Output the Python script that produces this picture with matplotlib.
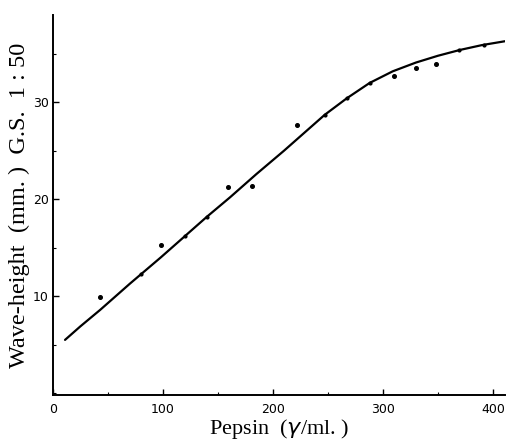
import numpy as np
import matplotlib.pyplot as plt
from matplotlib.ticker import MultipleLocator

# smooth curve
curva_x = [11, 25, 43, 70, 98, 120, 140, 161, 185, 210, 230, 247, 267, 288, 309, 330, 350, 370, 390, 411]
curva_y = [5.5, 6.9, 8.6, 11.3, 14.0, 16.2, 18.2, 20.2, 22.6, 25.0, 27.0, 28.7, 30.4, 32.0, 33.2, 34.1, 34.8, 35.4, 35.9, 36.3]

# measured points (off the curve)
puntos_x = [43, 98, 159, 181, 222, 310, 330, 348]
puntos_y = [9.9, 15.3, 21.3, 21.4, 27.7, 32.7, 33.5, 34.0]

# faint points sitting on the curve
sobre_x = [80, 120, 140, 247, 267, 288, 369, 392]
sobre_y = [12.3, 16.2, 18.2, 28.7, 30.4, 32.0, 35.4, 35.9]

x_ticks = [0, 100, 200, 300, 400]
x_labels = ['0', '100', '200', '300', '400']
y_ticks = [10, 20, 30]
y_labels = ['10', '20', '30']

fig = plt.figure(figsize=(5.09, 4.43), dpi=100)
ax = fig.add_axes([0.104, 0.108, 0.888, 0.858])

ax.plot(curva_x, curva_y, color='black', lw=1.6, solid_capstyle='round')
ax.plot(puntos_x, puntos_y, 'o', color='black', ms=2.6)
ax.plot(sobre_x, sobre_y, 'o', color='black', ms=2.0)

ax.set_xlim(0, 411)
ax.set_ylim(-0.2, 39)
ax.spines['top'].set_visible(False)
ax.spines['right'].set_visible(False)
ax.spines['left'].set_linewidth(1.4)
ax.spines['bottom'].set_linewidth(1.4)

ax.set_xticks(x_ticks)
ax.set_xticklabels(x_labels)
ax.set_yticks(y_ticks)
ax.set_yticklabels(y_labels)
ax.xaxis.set_minor_locator(MultipleLocator(50))
ax.yaxis.set_minor_locator(MultipleLocator(5))
ax.tick_params(which='major', direction='in', length=4, width=1, labelsize=9, pad=6)
ax.tick_params(which='minor', direction='in', length=2.5, width=0.8)
ax.tick_params(axis='y', pad=3)

ax.set_xlabel(r'Pepsin  ($\gamma$/ml. )', family='Liberation Serif', fontsize=16)
ax.xaxis.set_label_coords(0.5, -0.058)
ax.set_ylabel('Wave-height  (mm. )  G.S.  1 : 50', family='Liberation Serif', fontsize=17.5, labelpad=2)

fig.savefig('out.png', dpi=100)
